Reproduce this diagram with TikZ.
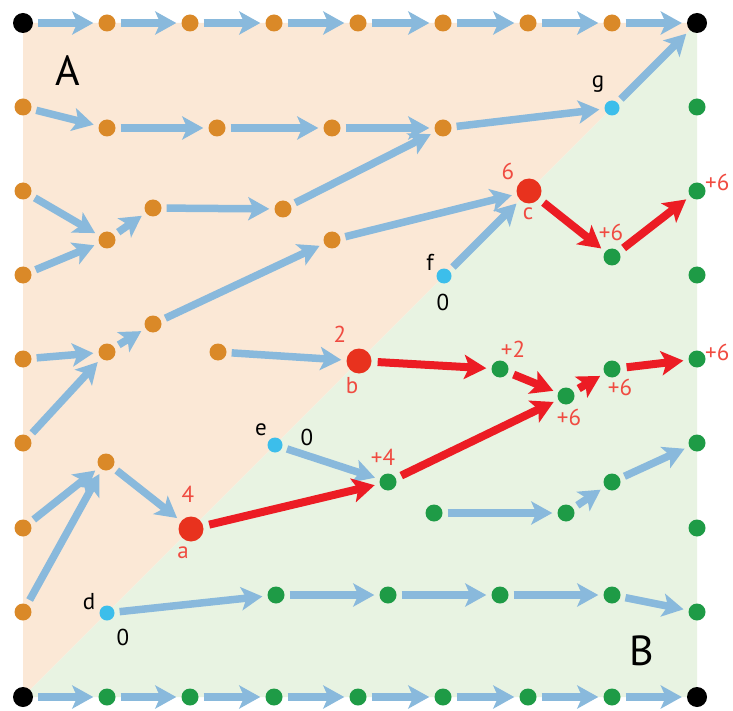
\documentclass[tikz,border=0pt]{standalone}
\usepackage{fontspec}
\setmainfont{PT Sans}
\usetikzlibrary{arrows.meta}
\definecolor{peach}{RGB}{251,232,214}
\definecolor{mint}{RGB}{232,243,226}
\definecolor{dotorange}{RGB}{218,137,40}
\definecolor{dotgreen}{RGB}{30,155,70}
\definecolor{dotblue}{RGB}{60,190,235}
\definecolor{dotred}{RGB}{232,50,30}
\definecolor{arrblue}{RGB}{137,185,220}
\definecolor{arrred}{RGB}{236,28,36}
\definecolor{labred}{RGB}{240,75,65}
\begin{document}
\begin{tikzpicture}[x=1pt,y=-1pt,
 dot/.style={circle,inner sep=0pt,minimum size=17pt},
 od/.style={dot,fill=dotorange},
 gd/.style={dot,fill=dotgreen},
 bd/.style={circle,inner sep=0pt,minimum size=15pt,fill=dotblue},
 rd/.style={circle,inner sep=0pt,minimum size=25pt,fill=dotred},
 kd/.style={circle,inner sep=0pt,minimum size=20pt,fill=black},
 ba/.style={draw=arrblue,line width=7.5pt,-{Stealth[length=21pt,width=23pt,inset=5pt]},shorten <=5pt,shorten >=5pt},
 ra/.style={draw=arrred,line width=8pt,-{Stealth[length=22pt,width=24pt,inset=5pt]},shorten <=6pt,shorten >=5pt},
 lab/.style={font=\fontsize{23}{23}\selectfont,inner sep=0pt},
 rl/.style={lab,text=labred},
 big/.style={font=\fontsize{42}{42}\selectfont,inner sep=0pt},
]
\useasboundingbox (0,0) rectangle (733,711);
% backgrounds
\fill[peach] (23,23) -- (697,23) -- (23,697) -- cycle;
\fill[mint] (697,23) -- (697,697) -- (23,697) -- cycle;

% corners
\node[kd] (TL) at (23,23) {};
\node[kd] (TR) at (697,23) {};
\node[kd] (BL) at (23,697) {};
\node[kd] (BR) at (697,697) {};

% top and bottom rows
\foreach \i/\x in {1/107,2/190,3/274,4/358,5/443,6/528,7/612} {
  \node[od] (t\i) at (\x,23) {};
  \node[gd] (b\i) at (\x,697) {};
}
% left and right columns
\foreach \j/\y in {7/107,6/191,5/275,4/359,3/443,2/528,1/612} {
  \node[od] (l\j) at (23,\y) {};
  \node[gd] (r\j) at (697,\y) {};
}

% interior orange
\node[od] (o1) at (107,128) {};
\node[od] (o2) at (217,128) {};
\node[od] (o3) at (332,128) {};
\node[od] (o4) at (443,128) {};
\node[od] (o5) at (153,208) {};
\node[od] (o6) at (283,209) {};
\node[od] (o7) at (107,240) {};
\node[od] (o8) at (332,240) {};
\node[od] (o9) at (153,324) {};
\node[od] (o10) at (107,352) {};
\node[od] (o11) at (218,352) {};
\node[od] (o12) at (106,462) {};

% blue (diagonal)
\node[bd] (d) at (107,613) {};
\node[bd] (e) at (275,445) {};
\node[bd] (f) at (444,276) {};
\node[bd] (g) at (612,108) {};

% red
\node[rd] (a) at (191,529) {};
\node[rd] (b) at (359,361) {};
\node[rd] (c) at (529,191) {};

% interior green
\node[gd] (n1) at (612,257) {};
\node[gd] (n2) at (500,369) {};
\node[gd] (n3) at (566,396) {};
\node[gd] (n4) at (612,369) {};
\node[gd] (n5) at (388,482) {};
\node[gd] (n6) at (434,513) {};
\node[gd] (n7) at (566,513) {};
\node[gd] (n8) at (612,482) {};
\node[gd] (n9) at (276,595) {};
\node[gd] (n10) at (388,595) {};
\node[gd] (n11) at (500,595) {};
\node[gd] (n12) at (612,595) {};

% blue arrows
\draw[ba] (TL) -- (t1);
\draw[ba] (t1) -- (t2);
\draw[ba] (t2) -- (t3);
\draw[ba] (t3) -- (t4);
\draw[ba] (t4) -- (t5);
\draw[ba] (t5) -- (t6);
\draw[ba] (t6) -- (t7);
\draw[ba] (t7) -- (TR);
\draw[ba] (BL) -- (b1);
\draw[ba] (b1) -- (b2);
\draw[ba] (b2) -- (b3);
\draw[ba] (b3) -- (b4);
\draw[ba] (b4) -- (b5);
\draw[ba] (b5) -- (b6);
\draw[ba] (b6) -- (b7);
\draw[ba] (b7) -- (BR);

\draw[ba] (l7) -- (o1);
\draw[ba] (o1) -- (o2);
\draw[ba] (o2) -- (o3);
\draw[ba] (o3) -- (o4);
\draw[ba] (o4) -- (g);
\draw[ba] (g) -- (TR);
\draw[ba] (l6) -- (o7);
\draw[ba] (l5) -- (o7);
\draw[ba] (o7) -- (o5);
\draw[ba] (o5) -- (o6);
\draw[ba] (o6) -- (o4);
\draw[ba] (o9) -- (o8);
\draw[ba] (o8) -- (c);
\draw[ba] (f) -- (c);
\draw[ba] (l4) -- (o10);
\draw[ba] (l3) -- (o10);
\draw[ba] (o10) -- (o9);
\draw[ba] (o11) -- (b);
\draw[ba] (l2) -- (o12);
\draw[ba] (l1) -- (o12);
\draw[ba] (o12) -- (a);
\draw[ba] (e) -- (n5);
\draw[ba] (d) -- (n9);
\draw[ba] (n9) -- (n10);
\draw[ba] (n10) -- (n11);
\draw[ba] (n11) -- (n12);
\draw[ba] (n12) -- (r1);
\draw[ba] (n6) -- (n7);
\draw[ba] (n7) -- (n8);
\draw[ba] (n8) -- (r3);

% red arrows
\draw[ra] (c) -- (n1);
\draw[ra] (n1) -- (r6);
\draw[ra] (b) -- (n2);
\draw[ra] (n2) -- (n3);
\draw[ra] (n5) -- (n3);
\draw[ra] (n3) -- (n4);
\draw[ra] (n4) -- (r4);
\draw[ra] (a) -- (n5);

% labels
\node[big] (labA) at (68,71) {A};
\node[big] (labB) at (642,651) {B};
\node[rl] (la1) at (188,494) {4};
\node[rl] (la2) at (183,553) {a};
\node[rl] (lb1) at (340,334) {2};
\node[rl] (lb2) at (352,386) {b};
\node[rl] (lc1) at (508,171) {6};
\node[rl] (lc2) at (528,214) {c};
\node[lab] (ld1) at (89,602) {d};
\node[lab] (ld2) at (123,637) {0};
\node[lab] (le1) at (261,430) {e};
\node[lab] (le2) at (307,437) {0};
\node[lab] (lf1) at (430,262) {f};
\node[lab] (lf2) at (443,302) {0};
\node[lab] (lg1) at (598,84) {g};
\node[rl] (ln1) at (611,232) {+6};
\node[rl,anchor=west] (lr6) at (705,182) {+6};
\node[rl] (ln2) at (513,349) {+2};
\node[rl] (ln3) at (569,417) {+6};
\node[rl] (ln4) at (620,387) {+6};
\node[rl,anchor=west] (lr4) at (705,352) {+6};
\node[rl] (ln5) at (383,457) {+4};
\end{tikzpicture}
\end{document}
